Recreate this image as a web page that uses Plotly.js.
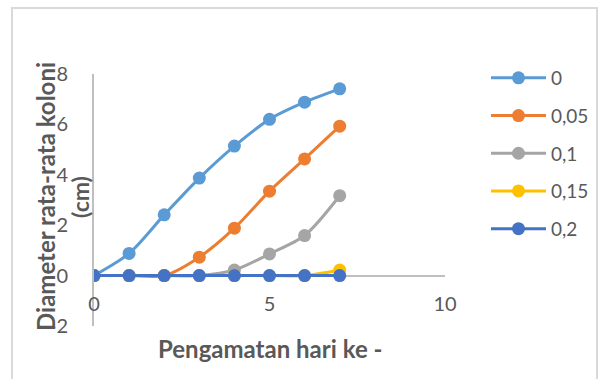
<!DOCTYPE html>
<html>
<head>
<meta charset="utf-8">
<script src="https://cdn.plot.ly/plotly-3.0.1.min.js"></script>
<style>
  html, body { margin: 0; padding: 0; background: #ffffff; }
  #chart { width: 598px; height: 379px; }
</style>
</head>
<body>
<div id="chart"></div>
<script>
// Observation days
const days = [0, 1, 2, 3, 4, 5, 6, 7];

// Concentration labels for each series
const seriesNames = ['0', '0,05', '0,1', '0,15', '0,2'];

// Mean colony diameter (cm) per concentration
const dia0   = [0, 0.88, 2.41, 3.87, 5.14, 6.2, 6.88, 7.41];
const dia005 = [0, 0, 0, 0.73, 1.88, 3.35, 4.63, 5.93];
const dia01  = [0, 0, 0, 0, 0.22, 0.86, 1.59, 3.17];
const dia015 = [0, 0, 0, 0, 0, 0, 0, 0.22];
const dia02  = [0, 0, 0, 0, 0, 0, 0, 0];

const seriesValues = [dia0, dia005, dia01, dia015, dia02];
const seriesColors = ['#5B9BD5', '#ED7D31', '#A5A5A5', '#FFC000', '#4472C4'];

// Axis ticks
const xTicks = [0, 5, 10];
const yTicks = [-2, 0, 2, 4, 6, 8];

const textGray = '#595959';
const axisGray = '#BFBFBF';

const traces = seriesValues.map((vals, i) => ({
  x: days,
  y: vals,
  name: seriesNames[i],
  legendgroup: 'g' + i,
  type: 'scatter',
  mode: 'lines+markers',
  line: { color: seriesColors[i], width: 3, shape: 'spline', smoothing: 0.8 },
  marker: { color: seriesColors[i], size: 13 },
  hoverinfo: 'skip'
}));

// Plot area spans x 94..445 px and y 74..326 px
const L = 94, R = 598 - 445, T = 74, B = 379 - 326;
const plotW = 598 - L - R, plotH = 379 - T - B;
const px = v => (v - L) / plotW;
const py = v => (379 - B - v) / plotH;

const layout = {
  width: 598,
  height: 379,
  margin: { l: L, r: R, t: T, b: B, pad: 0, autoexpand: false },
  paper_bgcolor: '#ffffff',
  plot_bgcolor: '#ffffff',
  font: { family: 'Lato, "Open Sans", sans-serif', color: textGray },
  showlegend: true,
  legend: {
    x: px(486), xanchor: 'left',
    y: py(59), yanchor: 'top',
    traceorder: 'grouped',
    tracegroupgap: 10,
    itemwidth: 55,
    font: { size: 19, color: textGray, family: 'Lato, sans-serif' },
    bgcolor: 'rgba(0,0,0,0)'
  },
  xaxis: {
    range: [0, 10],
    tickvals: xTicks,
    ticktext: xTicks.map(String),
    showgrid: false,
    zeroline: false,
    showline: false,
    ticks: '',
    anchor: 'free',
    position: 0.142,
    tickfont: { size: 20, color: textGray },
    fixedrange: true
  },
  yaxis: {
    range: [-2, 8],
    tickvals: yTicks,
    ticktext: yTicks.map(String),
    showgrid: false,
    zeroline: true,
    zerolinecolor: axisGray,
    zerolinewidth: 2,
    showline: true,
    linecolor: axisGray,
    linewidth: 2,
    ticks: '',
    ticklabelstandoff: 20,
    tickfont: { size: 20, color: textGray },
    fixedrange: true
  },
  annotations: [
    {
      text: '<b>Pengamatan hari ke -</b>',
      xref: 'paper', yref: 'paper',
      x: px(270), y: py(348),
      xanchor: 'center', yanchor: 'middle',
      showarrow: false,
      font: { size: 24, color: textGray }
    },
    {
      text: '<b>Diameter rata-rata koloni</b>',
      xref: 'paper', yref: 'paper',
      x: px(45), y: py(197),
      xanchor: 'center', yanchor: 'middle',
      textangle: -90,
      showarrow: false,
      font: { size: 24, color: textGray }
    },
    {
      text: '<b>(cm)</b>',
      xref: 'paper', yref: 'paper',
      x: px(80), y: py(197),
      xanchor: 'center', yanchor: 'middle',
      textangle: -90,
      showarrow: false,
      font: { size: 23, color: textGray }
    }
  ],
  shapes: [
    {
      type: 'rect',
      xref: 'paper', yref: 'paper',
      x0: px(12), x1: px(597),
      y0: py(390), y1: py(8),
      line: { color: '#D9D9D9', width: 2 },
      fillcolor: 'rgba(0,0,0,0)',
      layer: 'below'
    }
  ]
};

Plotly.newPlot('chart', traces, layout, { displayModeBar: false, staticPlot: true });
</script>
</body>
</html>
